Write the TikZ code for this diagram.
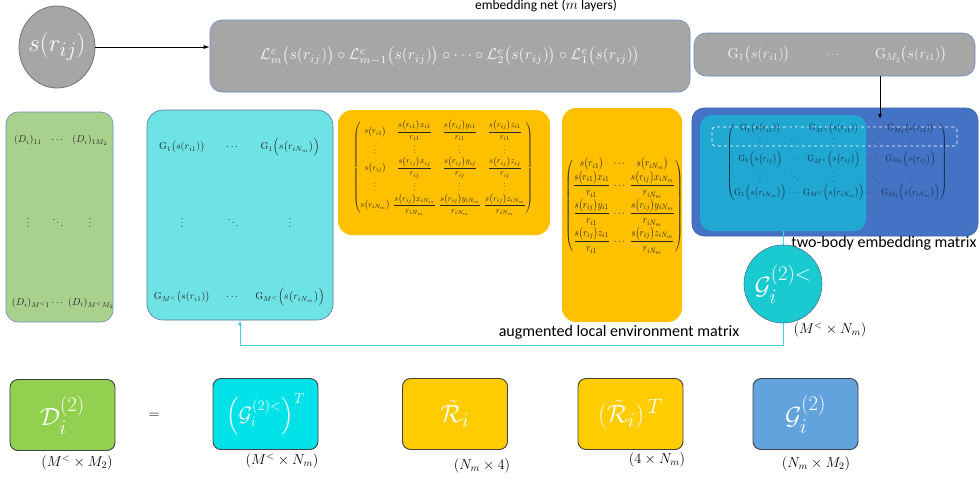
\documentclass[tikz,border=0pt]{standalone}
\usepackage{amsmath}
\usepackage{fontspec}
\newfontfamily\calibri{Carlito}
\usetikzlibrary{arrows.meta,shapes.geometric}

\definecolor{netgray}{HTML}{A6A6A6}
\definecolor{netedge}{HTML}{6C8EBF}
\definecolor{envgreen}{HTML}{A9D18E}
\definecolor{envcyan}{HTML}{6EE3E6}
\definecolor{envorange}{HTML}{FFC000}
\definecolor{embblue}{HTML}{4472C4}
\definecolor{embteal}{HTML}{20A8D2}
\definecolor{embtext}{HTML}{1B2A4A}
\definecolor{gcyan}{HTML}{19CBD0}
\definecolor{linkcyan}{HTML}{45D0DC}
\definecolor{resgreen}{HTML}{92D050}
\definecolor{rescyan}{HTML}{00E1E8}
\definecolor{resyellow}{HTML}{FFCC00}
\definecolor{resblue}{HTML}{62A2DD}

\tikzset{
  block/.style={draw=netedge, rounded corners=12pt, line width=0.6pt, inner sep=0pt},
  entry/.style={text=black!85, font=\normalsize},
  result/.style={draw=black!75, rounded corners=8pt, line width=0.9pt,
    minimum width=105pt, minimum height=71pt, text=white, font=\Huge},
  dimlabel/.style={font=\Large},
  caption/.style={font=\calibri\fontsize{16}{18}\selectfont},
}

\begin{document}
\begin{tikzpicture}[x=1pt,y=1pt]
    \useasboundingbox (0,0) rectangle (980,-479);
    % wejscie i siec osadzajaca
    \node[ellipse, draw=black!55, fill=netgray, line width=0.8pt, minimum width=76pt, minimum height=82pt,
          label={[text=white,font=\Huge]center:$s(r_{ij})$}] (srij) at (57,-47) {};
    \node[block, fill=netgray, minimum width=480pt, minimum height=72pt] (embnet) at (450,-56) {};
    \node[text=white!92!gray] (embform) at (embnet) {\resizebox{380pt}{!}{$\mathcal{L}^e_m\big(s(r_{ij})\big)\circ\mathcal{L}^e_{m-1}\big(s(r_{ij})\big)\circ\cdots\circ\mathcal{L}^e_2\big(s(r_{ij})\big)\circ\mathcal{L}^e_1\big(s(r_{ij})\big)$}};
    \node[caption, font=\calibri\fontsize{13.5}{15}\selectfont] (nettitle) at (546,-6) {embedding net ($m$ layers)};
    \draw[-{Latex[length=6pt,width=4pt]}, line width=0.7pt] (srij.east) -- (srij.east -| embnet.west);
    % wyjscia sieci G_1 ... G_M2
    \node[block, fill=netgray, minimum width=281pt, minimum height=43pt] (gout) at (834.5,-54.5) {};
    \node[text=white!92!gray, font=\Large] (gout1) at (759,-55) {$\mathrm{G}_1\big(s(r_{i1})\big)$};
    \node[text=white!92!gray] (goutdots) at (834,-55) {$\cdots$};
    \node[text=white!92!gray, font=\Large] (gout2) at (911,-55) {$\mathrm{G}_{M_2}\big(s(r_{i1})\big)$};
    % macierz osadzenia dwuciałowego
    \node[block, fill=embblue, draw=embblue!85!black, minimum width=286pt, minimum height=128pt] (embmat) at (835,-172) {};
    \node[rounded corners=12pt, fill=embteal, minimum width=166pt, minimum height=116pt] (embsub) at (783,-173) {};
    \node[draw=white, dashed, rounded corners=3pt, line width=0.7pt, minimum width=245pt, minimum height=19pt] (embrow) at (834.5,-136.5) {};
    \node[text=embtext] (embentries) at (837,-162) {\resizebox*{221pt}{78pt}{\setlength{\arraycolsep}{1.5pt}$\begin{pmatrix}
        \mathrm{G}_1\big(s(r_{i1})\big) & \cdots & \mathrm{G}_{M^<}\big(s(r_{i1})\big) & \cdots & \mathrm{G}_{M_2}\big(s(r_{i1})\big)\\
        \vdots & \ddots & \vdots & \ddots & \vdots\\
        \mathrm{G}_1\Big(s\big(r_{ij}\big)\Big) & \cdots & \mathrm{G}_{M^<}\Big(s\big(r_{ij}\big)\Big) & \cdots & \mathrm{G}_{M_2}\Big(s\big(r_{ij}\big)\Big)\\
        \vdots & \ddots & \vdots & \ddots & \vdots\\
        \mathrm{G}_1\Big(s\big(r_{iN_m}\big)\Big) & \cdots & \mathrm{G}_{M^<}\Big(s\big(r_{iN_m}\big)\Big) & \cdots & \mathrm{G}_{M_2}\Big(s\big(r_{iN_m}\big)\Big)
      \end{pmatrix}$}};
    \coordinate (embtip) at (880,-119);
    \draw[-{Latex[length=5pt,width=4pt]}, line width=0.7pt] (gout.south -| embtip) -- (embtip);
    \node[caption] (embcap) at (884,-243) {two-body embedding matrix};
    % G_i^(2)<
    \node[circle, draw=black!50!cyan, fill=gcyan, line width=0.6pt, minimum size=78pt,
          label={[text=white,font=\Huge]center:$\mathcal{G}_i^{(2)<}$}] (gsub) at (783,-284) {};
    \draw[linkcyan, line width=0.8pt] (embsub.south) -- (gsub.north);
    \node[dimlabel] (gsubdim) at (830,-330) {$(M^<\times N_m)$};
    % macierz D_i
    \node[block, fill=envgreen, minimum width=107pt, minimum height=210pt] (envd) at (59.5,-217) {};
    \node[entry] (d11) at (28,-140) {$(D_i)_{11}$};
    \node[entry] (d12) at (58,-140) {$\cdots$};
    \node[entry] (d13) at (90,-140) {$(D_i)_{1M_2}$};
    \node[entry] (d21) at (28,-220) {$\vdots$};
    \node[entry] (d22) at (58,-220) {$\ddots$};
    \node[entry] (d23) at (90,-220) {$\vdots$};
    \node[entry] (d31) at (31,-303) {$(D_i)_{M^<1}$};
    \node[entry] (d32) at (58,-303) {$\cdots$};
    \node[entry] (d33) at (91,-303) {$(D_i)_{M^<M_2}$};
    % macierz G_i^(2)<
    \node[block, fill=envcyan, draw=netedge!80!black, rounded corners=16pt, minimum width=186pt, minimum height=210pt] (envg) at (240,-215) {};
    \node[entry] (g11) at (182,-147) {$\mathrm{G}_1\big(s(r_{i1})\big)$};
    \node[entry] (g12) at (233,-147) {$\cdots$};
    \node[entry] (g13) at (290,-147) {$\mathrm{G}_1\Big(s\big(r_{iN_m}\big)\Big)$};
    \node[entry] (g21) at (182,-220) {$\vdots$};
    \node[entry] (g22) at (233,-220) {$\ddots$};
    \node[entry] (g23) at (290,-220) {$\vdots$};
    \node[entry] (g31) at (182,-297) {$\mathrm{G}_{M^<}\big(s(r_{i1})\big)$};
    \node[entry] (g32) at (233,-297) {$\cdots$};
    \node[entry] (g33) at (290,-297) {$\mathrm{G}_{M^<}\Big(s\big(r_{iN_m}\big)\Big)$};
    % macierz R_i
    \node[rounded corners=14pt, fill=envorange, minimum width=212pt, minimum height=125pt] (envr) at (444,-172.5) {};
    \node[text=black!85] (rentries) at (443,-168) {\resizebox*{180pt}{95pt}{\setlength{\arraycolsep}{2pt}$\begin{pmatrix}
        s\big(r_{i1}\big) & \dfrac{s\big(r_{i1}\big)x_{i1}}{r_{i1}} & \dfrac{s\big(r_{ij}\big)y_{i1}}{r_{i1}} & \dfrac{s\big(r_{ij}\big)z_{i1}}{r_{i1}}\\
        \vdots & \vdots & \vdots & \vdots\\
        s\big(r_{ij}\big) & \dfrac{s\big(r_{ij}\big)x_{ij}}{r_{ij}} & \dfrac{s\big(r_{ij}\big)y_{ij}}{r_{ij}} & \dfrac{s\big(r_{ij}\big)z_{ij}}{r_{ij}}\\
        \vdots & \vdots & \vdots & \vdots\\
        s\big(r_{iN_m}\big) & \dfrac{s\big(r_{ij}\big)x_{iN_m}}{r_{iN_m}} & \dfrac{s\big(r_{ij}\big)y_{iN_m}}{r_{iN_m}} & \dfrac{s\big(r_{ij}\big)z_{iN_m}}{r_{iN_m}}
      \end{pmatrix}$}};
    % macierz R_i^T
    \node[rounded corners=14pt, fill=envorange, minimum width=120pt, minimum height=214pt] (envrt) at (622,-215) {};
    \node[text=black!85] (rtentries) at (624,-206) {\resizebox*{118pt}{97pt}{\setlength{\arraycolsep}{2pt}$\begin{pmatrix}
        s\big(r_{i1}\big) & \cdots & s\big(r_{iN_m}\big)\\
        \dfrac{s\big(r_{i1}\big)x_{i1}}{r_{i1}} & \cdots & \dfrac{s\big(r_{ij}\big)x_{iN_m}}{r_{iN_m}}\\
        \dfrac{s\big(r_{ij}\big)y_{i1}}{r_{i1}} & \cdots & \dfrac{s\big(r_{ij}\big)y_{iN_m}}{r_{iN_m}}\\
        \dfrac{s\big(r_{ij}\big)z_{i1}}{r_{i1}} & \cdots & \dfrac{s\big(r_{ij}\big)z_{iN_m}}{r_{iN_m}}
      \end{pmatrix}$}};
    \node[caption] (envcap) at (619,-332) {augmented local environment matrix};
    \draw[linkcyan, line width=0.8pt, -{Latex[length=5pt,width=4pt]}] (gsub.south) -- ++(0,-22) -| (envg.south);
    % wynik: D = G^T R R^T G
    \node[result, fill=resgreen] (dres) at (62.5,-415) {$\mathcal{D}_i^{(2)}$};
    \node[font=\Large] (eq) at (154,-416) {$=$};
    \node[result, fill=rescyan, font=\huge] (gres) at (265.5,-414) {$\left(\mathcal{G}_i^{(2)<}\right)^T$};
    \node[result, fill=resyellow] (rres) at (455,-414) {$\tilde{\mathcal{R}}_i$};
    \node[result, fill=resyellow] (rtres) at (630.5,-414) {$(\tilde{\mathcal{R}}_i)^{\,T}$};
    \node[result, fill=resblue] (g2res) at (805.5,-414) {$\mathcal{G}_i^{(2)}$};
    \node[dimlabel] (ddim) at (77,-463) {$(M^<\times M_2)$};
    \node[dimlabel] (gdim) at (282,-461) {$(M^<\times N_m)$};
    \node[dimlabel] (rdim) at (482,-466) {$(N_m\times 4)$};
    \node[dimlabel] (rtdim) at (657,-460) {$(4\times N_m)$};
    \node[dimlabel] (g2dim) at (816,-464) {$(N_m\times M_2)$};
\end{tikzpicture}
\end{document}
